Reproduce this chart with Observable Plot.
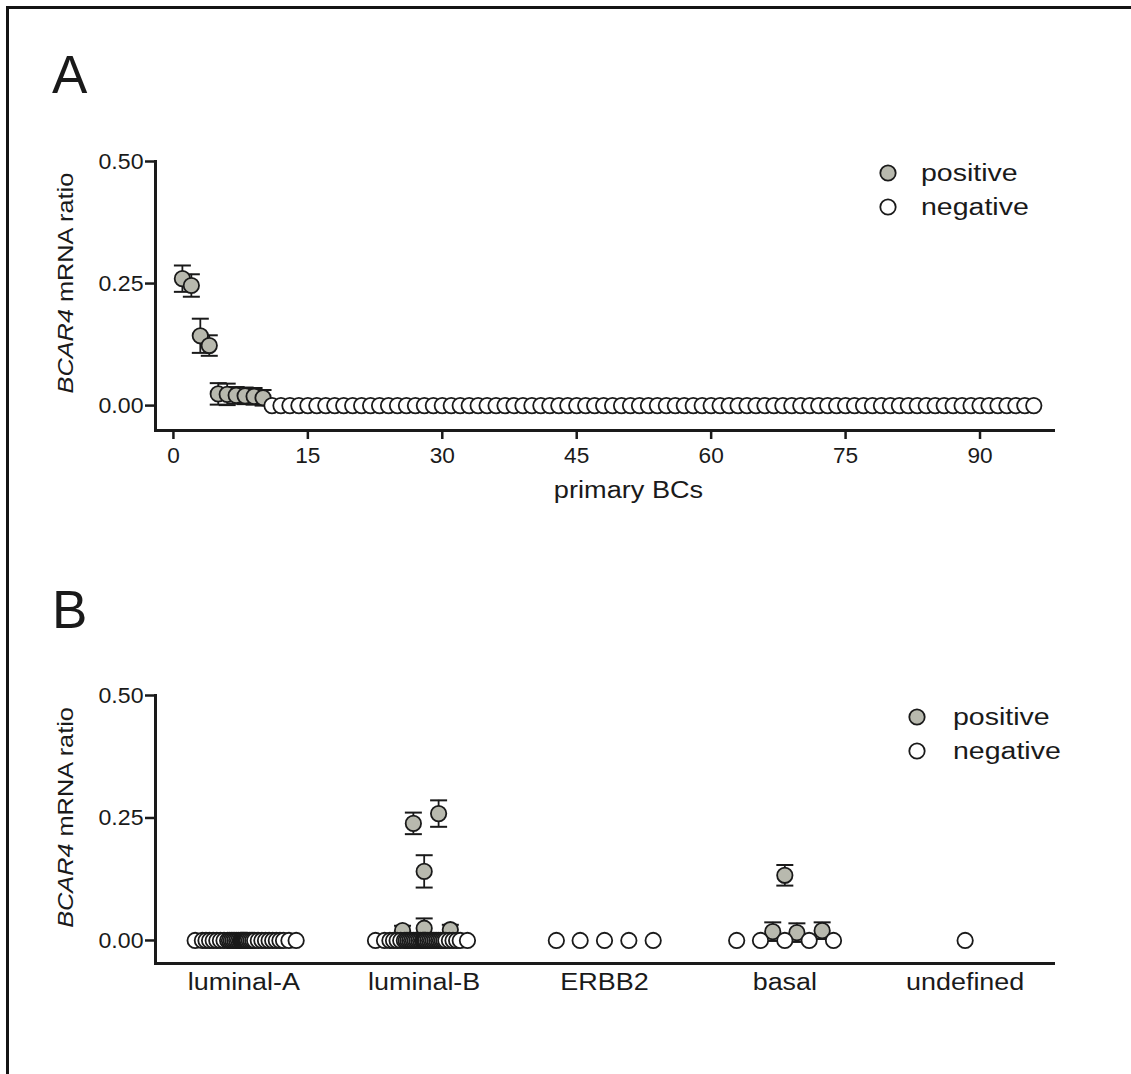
<!DOCTYPE html>
<html><head><meta charset="utf-8">
<script src="https://cdn.jsdelivr.net/npm/d3@7"></script>
<script src="https://cdn.jsdelivr.net/npm/@observablehq/plot@0.6"></script>
<style>
html,body{margin:0;padding:0;background:#fff;}
#page{position:relative;width:1131px;height:1074px;overflow:hidden;font-family:"Liberation Sans",Arial,sans-serif;}
#frame{position:absolute;left:6px;top:6px;width:1300px;height:1300px;border-left:3px solid #141414;border-top:3px solid #141414;box-sizing:border-box;}
.panel{position:absolute;left:0;}
#overlay{position:absolute;left:0;top:0;}
</style></head><body>
<div id="page"><div id="frame"></div><div id="panelA" class="panel" style="top:0px"></div><div id="panelB" class="panel" style="top:540px"></div></div>
<script>
// ---------------- DATA ----------------
const seriesNames = ["positive", "negative"];
const yTicks = [0, 0.25, 0.5];
const xTicksA = [0, 15, 30, 45, 60, 75, 90];
const categories = ["luminal-A", "luminal-B", "ERBB2", "basal", "undefined"];

// Panel A: ranked primary breast cancers; positive samples 1-10
const posSampleA = [1, 2, 3, 4, 5, 6, 7, 8, 9, 10];
const posValueA  = [0.260, 0.246, 0.143, 0.123, 0.024, 0.023, 0.021, 0.020, 0.019, 0.016];
const posErrorA  = [0.027, 0.023, 0.035, 0.021, 0.022, 0.022, 0.017, 0.017, 0.017, 0.016];
// Panel A: negative samples 11-96
const negSampleA = [11,12,13,14,15,16,17,18,19,20,21,22,23,24,25,26,27,28,29,30,31,32,33,34,35,36,37,38,39,40,
  41,42,43,44,45,46,47,48,49,50,51,52,53,54,55,56,57,58,59,60,61,62,63,64,65,66,67,68,69,70,
  71,72,73,74,75,76,77,78,79,80,81,82,83,84,85,86,87,88,89,90,91,92,93,94,95,96];
const negValueA = [0,0,0,0,0,0,0,0,0,0,0,0,0,0,0,0,0,0,0,0,0,0,0,0,0,0,0,0,0,0,
  0,0,0,0,0,0,0,0,0,0,0,0,0,0,0,0,0,0,0,0,0,0,0,0,0,0,0,0,0,0,
  0,0,0,0,0,0,0,0,0,0,0,0,0,0,0,0,0,0,0,0,0,0,0,0,0,0];

// Panel B: positives by subtype (jitter in category units)
const posGroupB  = ["luminal-B","luminal-B","luminal-B","luminal-B","luminal-B","luminal-B","basal","basal","basal","basal"];
const posJitterB = [-0.12, 0.0, 0.145, -0.06, 0.08, 0.0, -0.067, 0.067, 0.207, 0.0];
const posValueB  = [0.020, 0.025, 0.022, 0.239, 0.259, 0.141, 0.018, 0.016, 0.020, 0.133];
const posErrorB  = [0.010, 0.020, 0.010, 0.022, 0.027, 0.033, 0.019, 0.019, 0.017, 0.021];
// Panel B: negatives by subtype (all 0)
const negJitterLumA = [-0.27,-0.23,-0.21,-0.19,-0.17,-0.15,-0.13,-0.11,-0.09,-0.08,-0.07,-0.06,-0.05,-0.04,-0.03,-0.02,-0.015,-0.01,-0.005,0,
  0.005,0.01,0.015,0.02,0.03,0.04,0.05,0.06,0.08,0.10,0.12,0.14,0.16,0.18,0.20,0.22,0.25,0.29];
const negJitterLumB = [-0.27,-0.22,-0.19,-0.17,-0.15,-0.13,-0.11,-0.10,-0.09,-0.08,-0.07,-0.06,-0.05,-0.04,-0.03,-0.02,-0.01,-0.005,0,
  0.005,0.01,0.02,0.03,0.04,0.05,0.06,0.07,0.08,0.09,0.10,0.11,0.12,0.14,0.16,0.18,0.20,0.24];
const negJitterERBB2 = [-0.267, -0.135, 0, 0.135, 0.27];
const negJitterBasal = [-0.267, -0.135, 0, 0.135, 0.27];
const negJitterUndef = [0];

// ---------------- STYLE ----------------
const INK = "#1a1a1a";
const GRAY = "#b8b9ae";
const FONT = "Liberation Sans, Arial, Helvetica, sans-serif";
const DOT_R = 7.7, DOT_SW = 1.8;

// horizontal cap symbol for error bars
const capSymbol = {draw(ctx, size) { const r = Math.sqrt(size / Math.PI); ctx.moveTo(-r, 0); ctx.lineTo(r, 0); }};

// ---------------- TABLES ----------------
const rowsA = [
  ...posSampleA.map((s, i) => ({x: s, y: posValueA[i], err: posErrorA[i], status: "positive"})),
  ...negSampleA.map((s, i) => ({x: s, y: negValueA[i], err: 0, status: "negative"}))
];
const posA = rowsA.filter(d => d.status === "positive");

const catIndex = c => categories.indexOf(c) + 1;
const posB = posGroupB.map((g, i) => ({x: catIndex(g) + posJitterB[i], y: posValueB[i], err: posErrorB[i], status: "positive"}));
const negB = [
  ...negJitterLumA.map(j => ({g: "luminal-A", j})),
  ...negJitterLumB.map(j => ({g: "luminal-B", j})),
  ...negJitterERBB2.map(j => ({g: "ERBB2", j})),
  ...negJitterBasal.map(j => ({g: "basal", j})),
  ...negJitterUndef.map(j => ({g: "undefined", j}))
].map(d => ({x: catIndex(d.g) + d.j, y: 0, status: "negative"}));

function errorMarks(data) {
  return [
    Plot.ruleX(data, {x: "x", y1: d => d.y - d.err, y2: d => d.y + d.err, stroke: INK, strokeWidth: 1.8}),
    Plot.dot(data, {x: "x", y: d => d.y + d.err, symbol: capSymbol, r: 8.5, fill: "none", stroke: INK, strokeWidth: 2}),
    Plot.dot(data, {x: "x", y: d => d.y - d.err, symbol: capSymbol, r: 8.5, fill: "none", stroke: INK, strokeWidth: 2})
  ];
}
function dotMark(data) {
  return Plot.dot(data, {x: "x", y: "y", r: DOT_R, fill: "status", stroke: INK, strokeWidth: DOT_SW});
}

const plotA = Plot.plot({
  width: 1131, height: 540, marginTop: 161, marginBottom: 110, marginLeft: 155, marginRight: 78,
  x: {domain: [-2, 98.2]},
  y: {domain: [-0.051, 0.5]},
  color: {domain: seriesNames, range: [GRAY, "#ffffff"]},
  style: {fontFamily: FONT, color: INK, background: "transparent", overflow: "visible"},
  marks: [
    Plot.axisY({ticks: yTicks, tickFormat: d3.format(".2f"), tickSize: 10, tickPadding: 2, strokeWidth: 2.5, fontSize: 22, fill: INK, label: null}),
    Plot.axisX({ticks: xTicksA, tickFormat: d3.format("d"), tickSize: 9, tickPadding: 8, strokeWidth: 2.5, fontSize: 22, fill: INK, label: null}),
    Plot.frame({anchor: "left", stroke: INK, strokeWidth: 3}),
    Plot.frame({anchor: "bottom", stroke: INK, strokeWidth: 3}),
    ...errorMarks(posA),
    dotMark(rowsA),
    Plot.text(["primary BCs"], {frameAnchor: "bottom", dx: 24, dy: 67, lineAnchor: "bottom", fontSize: 23, fill: INK})
  ]
});

const plotB = Plot.plot({
  width: 1131, height: 534, marginTop: 155, marginBottom: 111, marginLeft: 155, marginRight: 78,
  x: {domain: [0.51, 5.49]},
  y: {domain: [-0.047, 0.5]},
  color: {domain: seriesNames, range: [GRAY, "#ffffff"]},
  style: {fontFamily: FONT, color: INK, background: "transparent", overflow: "visible"},
  marks: [
    Plot.axisY({ticks: yTicks, tickFormat: d3.format(".2f"), tickSize: 10, tickPadding: 2, strokeWidth: 2.5, fontSize: 22, fill: INK, label: null}),
    Plot.axisX({ticks: [1, 2, 3, 4, 5], tickFormat: i => categories[i - 1], tickSize: 0, tickPadding: 10, fontSize: 23, fill: INK, label: null}),
    Plot.frame({anchor: "left", stroke: INK, strokeWidth: 3}),
    Plot.frame({anchor: "bottom", stroke: INK, strokeWidth: 3}),
    ...errorMarks(posB),
    dotMark(posB),
    dotMark(negB)
  ]
});

document.getElementById("panelA").appendChild(plotA);
document.getElementById("panelB").appendChild(plotB);

function stretch(root, selector, k) {
  d3.select(root).selectAll(selector).each(function() {
    const len = this.getComputedTextLength();
    if (len > 0) { this.setAttribute("textLength", (len * k).toFixed(1)); this.setAttribute("lengthAdjust", "spacingAndGlyphs"); }
  });
}
for (const p of [plotA, plotB]) {
  stretch(p, 'g[aria-label="y-axis tick label"] text', 1.05);
}
stretch(plotA, 'g[aria-label="x-axis tick label"] text', 1.03);
stretch(plotB, 'g[aria-label="x-axis tick label"] text', 1.17);
stretch(plotA, 'g[aria-label="text"] text', 1.18);

// ---------------- overlay: panel letters, y titles, legends ----------------
const overlay = d3.select("#page").append("svg").attr("id", "overlay")
  .attr("width", 1131).attr("height", 1074)
  .style("font-family", FONT).style("pointer-events", "none");

function yTitle(plot, top) {
  const cy = top + plot.scale("y").apply(0.25);
  const t = overlay.append("text").attr("transform", `translate(73,${cy}) rotate(-90)`)
    .attr("text-anchor", "middle").attr("font-size", 22).attr("fill", INK);
  t.append("tspan").attr("font-style", "italic").text("BCAR4");
  t.append("tspan").text(" mRNA ratio");
  const n = t.node(); n.setAttribute("textLength", (n.getComputedTextLength() * 1.15).toFixed(1)); n.setAttribute("lengthAdjust", "spacingAndGlyphs");
}
yTitle(plotA, 0);
yTitle(plotB, 540);

overlay.append("text").attr("x", 52).attr("y", 93).attr("font-size", 53).attr("fill", INK).text("A");
overlay.append("text").attr("x", 52).attr("y", 628).attr("font-size", 53).attr("fill", INK).text("B");

function legend(cx, cy0, gap, tx) {
  seriesNames.forEach((name, i) => {
    const cy = cy0 + i * gap;
    overlay.append("circle").attr("cx", cx).attr("cy", cy).attr("r", DOT_R)
      .attr("fill", name === "positive" ? GRAY : "#ffffff").attr("stroke", INK).attr("stroke-width", DOT_SW);
    const t = overlay.append("text").attr("x", tx).attr("y", cy + 8).attr("font-size", 23).attr("fill", INK).text(name);
    const n = t.node(); n.setAttribute("textLength", (n.getComputedTextLength() * 1.24).toFixed(1)); n.setAttribute("lengthAdjust", "spacingAndGlyphs");
  });
}
legend(888, 173, 34, 921);
legend(917, 717, 34, 953);
</script>
</body></html>
